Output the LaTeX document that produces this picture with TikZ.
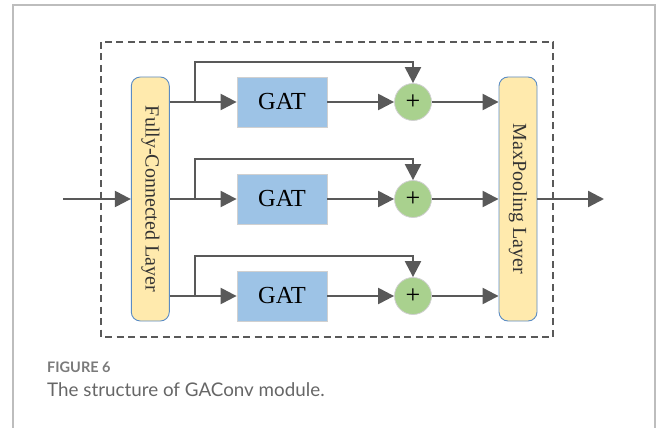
\documentclass[tikz,border=0pt]{standalone}
\usepackage{fontspec}
\setmainfont{Liberation Serif}
\newfontfamily\capfont{Lato}
\usetikzlibrary{arrows.meta,calc}
\definecolor{linegray}{HTML}{595959}
\definecolor{framegray}{HTML}{BDBDBD}
\definecolor{layerfill}{HTML}{FFEAAD}
\definecolor{layeredge}{HTML}{5B8CC4}
\definecolor{gatfill}{HTML}{9DC3E6}
\definecolor{sumfill}{HTML}{A9D18E}
\definecolor{softedge}{HTML}{D0D0D0}
\definecolor{capgray}{HTML}{7A7A7A}
\definecolor{textgray}{HTML}{666666}
\tikzset{
  layerbox/.style={draw=layeredge, line width=0.9pt, fill=layerfill, rounded corners=9pt,
    minimum width=38pt, minimum height=244pt, inner sep=0pt},
  layertext/.style={rotate=-90, font=\fontsize{20}{22}\selectfont, text=black!80, inner sep=0pt},
  gatbox/.style={draw=softedge, line width=0.8pt, fill=gatfill, minimum width=90pt,
    minimum height=50pt, inner sep=0pt, font=\fontsize{24.5}{26}\selectfont},
  sumnode/.style={circle, draw=softedge, line width=0.8pt, fill=sumfill, minimum size=37pt,
    inner sep=0pt, font=\fontsize{26}{28}\selectfont},
  conn/.style={draw=linegray, line width=2.3pt},
  arr/.style={conn, -{Triangle[length=16pt,width=16pt]}},
}
\begin{document}
\begin{tikzpicture}[x=1pt,y=-1pt]
\useasboundingbox (0,0) rectangle (656,428);
% page frame
\draw[framegray, line width=1.5pt] (13,428) -- (13,5) -- (655,5) -- (655,428);
% module boundary
\draw[linegray, line width=1.3pt, dash pattern=on 7pt off 4.5pt] (101,42) rectangle (553,337);

% layers
\node[layerbox] (fc) at (150.3,199) {};
\node[layertext] (fctext) at (fc.center) {Fully-Connected Layer};
\node[layerbox] (mp) at (518,199) {};
\node[layertext] (mptext) at (mp.center) {MaxPooling Layer};

% branches
\foreach \i/\y in {1/102,2/199,3/296}{
  \node[gatbox] (g\i) at (282,\y) {GAT};
  \node[sumnode] (s\i) at (413,\y) {+};
  \coordinate (b\i) at (195,\y);
  \draw[conn] (fc.east |- g\i) -- (b\i);
  \draw[arr] (b\i) -- (g\i.west);
  \draw[arr] (b\i) |- ([yshift=40pt]s\i.center) -- (s\i.north);
  \draw[arr] (g\i.east) -- (s\i.west);
  \draw[arr] (s\i.east) -- (mp.west |- s\i);
}

% input and output
\coordinate (in) at (63,199);
\coordinate (out) at (604,199);
\draw[arr] (in) -- (fc.west);
\draw[arr] (mp.east) -- (out);

% caption
\node[anchor=base west, inner sep=0pt, text=capgray, font=\capfont\bfseries\fontsize{14.5}{16}\selectfont] (figlab) at (47,372) {FIGURE 6};
\node[anchor=base west, inner sep=0pt, text=textgray, font=\capfont\fontsize{18.8}{21}\selectfont] (figcap) at (47,396) {The structure of GAConv module.};
\end{tikzpicture}
\end{document}
